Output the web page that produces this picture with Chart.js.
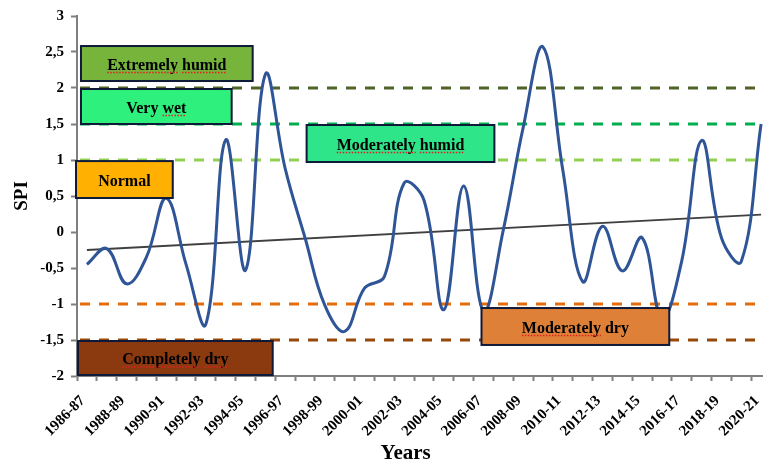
<!DOCTYPE html>
<html><head><meta charset="utf-8">
<script src="https://cdn.jsdelivr.net/npm/chart.js@4"></script>
<style>html,body{margin:0;padding:0;overflow:hidden;background:#fff;width:763px;height:466px}canvas{display:block}</style>
</head><body>
<canvas id="c" width="772" height="466"></canvas>
<script>
// ---------- DATA ----------
const years = ['1986-87','1987-88','1988-89','1989-90','1990-91','1991-92','1992-93','1993-94','1994-95','1995-96',
  '1996-97','1997-98','1998-99','1999-00','2000-01','2001-02','2002-03','2003-04','2004-05','2005-06',
  '2006-07','2007-08','2008-09','2009-10','2010-11','2011-12','2012-13','2013-14','2014-15','2015-16',
  '2016-17','2017-18','2018-19','2019-20','2020-21'];
const spi = [-0.45,-0.23,-0.72,-0.35,0.47,-0.45,-1.28,1.28,-0.53,2.19,
  0.88,-0.08,-1.02,-1.38,-0.78,-0.62,0.68,0.44,-1.08,0.64,
  -1.10,0.03,1.45,2.57,0.86,-0.69,0.08,-0.54,-0.08,-1.20,
  -0.40,1.27,-0.08,-0.41,1.50];
const trendStart = -0.25;
const trendEnd = 0.24;
const thresholds = [2, 1.5, 1, -1, -1.5];
const classNames = ['Extremely humid','Very wet','Normal','Moderately humid','Moderately dry','Completely dry'];
const yMin = -2, yMax = 3, yStep = 0.5;

// ---------- LAYOUT / STYLE ----------
const thresholdColors = ['#4F6228','#00B050','#92D050','#E46C0A','#984807'];
const refLineEnd = 33.8;               // category units
const boxPos = [                       // [xStart, xEnd] in category units, [yTop, yBottom] in SPI units
  {x:[-0.30,8.36], y:[2.583,2.097]},
  {x:[-0.30,7.30], y:[1.986,1.50]},
  {x:[-0.55,4.33], y:[0.985,0.472]},
  {x:[11.08,20.55], y:[1.486,0.972]},
  {x:[19.90,29.37], y:[-1.056,-1.569]},
  {x:[-0.45,9.37], y:[-1.514,-1.986]}
];
const boxFill = ['#76B43C','#2EF07C','#FFB000','#2EE58A','#DE8037','#8B3A10'];
const boxMarked = [['Extremely','humid'],['wet'],[],['Moderately','humid'],['Moderately'],['Completely','dry']];
const serif = '"Liberation Serif","Times New Roman",serif';

const trendData = years.map((_, i) => i === 0 ? trendStart : (i === years.length - 1 ? trendEnd : null));

const refLines = {
  id: 'refLines',
  beforeDatasetsDraw(chart) {
    const {ctx, chartArea, scales: {x, y}} = chart;
    ctx.save();
    thresholds.forEach((t, i) => {
      const py = y.getPixelForValue(t);
      ctx.beginPath();
      ctx.setLineDash([10, 9]);
      ctx.lineWidth = 3;
      ctx.strokeStyle = thresholdColors[i];
      ctx.moveTo(chartArea.left + 3, py);
      ctx.lineTo(x.getPixelForValue(refLineEnd), py);
      ctx.stroke();
    });
    ctx.restore();
  }
};

const classBoxes = {
  id: 'classBoxes',
  afterDatasetsDraw(chart) {
    const {ctx, scales: {x, y}} = chart;
    ctx.save();
    classNames.forEach((name, i) => {
      const p = boxPos[i];
      const x0 = x.getPixelForValue(p.x[0]), x1 = x.getPixelForValue(p.x[1]);
      const y0 = y.getPixelForValue(p.y[0]), y1 = y.getPixelForValue(p.y[1]);
      ctx.setLineDash([]);
      ctx.fillStyle = boxFill[i];
      ctx.fillRect(x0, y0, x1 - x0, y1 - y0);
      ctx.lineWidth = 2;
      ctx.strokeStyle = '#0E1A38';
      ctx.strokeRect(x0, y0, x1 - x0, y1 - y0);
      ctx.font = 'bold 16px ' + serif;
      ctx.fillStyle = '#000';
      ctx.textAlign = 'left';
      ctx.textBaseline = 'alphabetic';
      const tw = ctx.measureText(name).width;
      const cx = (x0 + x1) / 2, cy = (y0 + y1) / 2;
      const tx = cx - tw / 2, ty = cy + 6;
      ctx.fillText(name, tx, ty);
      // spell-check style red dotted underline
      const words = name.split(' ');
      let wx = tx;
      words.forEach((w) => {
        const ww = ctx.measureText(w).width;
        if (boxMarked[i].includes(w)) {
          ctx.beginPath();
          ctx.setLineDash([1.5, 1.5]);
          ctx.lineWidth = 1.3;
          ctx.strokeStyle = '#E02020';
          ctx.moveTo(wx, ty + 3);
          ctx.lineTo(wx + ww, ty + 3);
          ctx.stroke();
        }
        wx += ww + ctx.measureText(' ').width;
      });
    });
    ctx.restore();
  }
};

new Chart(document.getElementById('c'), {
  type: 'line',
  data: {
    labels: years,
    datasets: [
      {label: 'SPI', data: spi, borderColor: '#2F5597', borderWidth: 3, pointRadius: 0, tension: 0.4, fill: false},
      {label: 'Trend', data: trendData, borderColor: '#404040', borderWidth: 1.8, pointRadius: 0, spanGaps: true, tension: 0, fill: false}
    ]
  },
  options: {
    responsive: false,
    animation: false,
    devicePixelRatio: 1,
    layout: {padding: {top: 16, right: 1, left: 0, bottom: 0}},
    plugins: {legend: {display: false}, tooltip: {enabled: false}},
    scales: {
      x: {
        type: 'category',
        offset: true,
        grid: {offset: true, drawOnChartArea: false, drawTicks: true, tickLength: 5, tickColor: '#7F7F7F', tickWidth: 2},
        border: {display: true, color: '#7F7F7F', width: 2},
        ticks: {
          autoSkip: false, maxRotation: 45, minRotation: 45, padding: 11, labelOffset: -4,
          color: '#000', font: {family: serif, size: 15, weight: 'bold'},
          callback: (v, i) => i % 2 === 0 ? years[i] : ''
        },
        title: {display: true, text: 'Years       ', color: '#000', font: {family: serif, size: 21, weight: 'bold'}, padding: {top: 0, bottom: 0}},
        afterFit: s => { s.height = 90; s.paddingLeft = 0; s.paddingRight = 0; }
      },
      y: {
        min: yMin, max: yMax,
        grid: {drawOnChartArea: false, drawTicks: true, tickLength: 6, tickColor: '#7F7F7F', tickWidth: 2},
        border: {display: true, color: '#7F7F7F', width: 2},
        ticks: {
          stepSize: yStep, padding: 7, color: '#000',
          font: {family: serif, size: 15, weight: 'bold'},
          callback: v => String(v).replace('.', ',')
        },
        title: {display: true, text: 'SPI', color: '#000', font: {family: serif, size: 19, weight: 'bold'}, padding: {top: 11, bottom: 0}},
        afterFit: s => { s.width = 77; }
      }
    }
  },
  plugins: [refLines, classBoxes]
});
</script>
</body></html>
